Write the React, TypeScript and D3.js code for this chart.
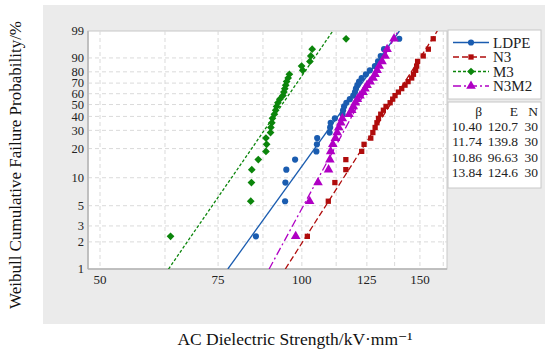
import React, { useRef, useEffect } from "react";
import * as d3 from "d3";

// breakdown strength values (kV/mm), sorted, 30 samples each
const ldpe = [85.4, 94.4, 94.5, 94.8, 97.7, 105.1, 105.3, 105.4, 110.0, 110.2, 110.4, 112.0, 115.0, 115.2, 115.6, 116.5, 117.9, 119.3, 120.0, 120.4, 121.0, 121.7, 122.8, 124.6, 126.3, 128.5, 129.9, 131.1, 132.6, 139.7];
const n3 = [101.9, 109.5, 112.0, 116.3, 116.3, 122.8, 123.8, 126.7, 127.6, 128.6, 129.4, 130.1, 131.1, 132.3, 133.5, 135.4, 136.6, 137.7, 139.3, 140.9, 142.5, 144.0, 145.8, 146.7, 147.8, 148.3, 148.8, 151.7, 154.4, 157.0];
const m3 = [63.7, 83.9, 84.1, 84.2, 86.1, 88.4, 88.6, 88.4, 89.8, 89.9, 90.2, 90.4, 91.0, 91.4, 91.7, 92.1, 92.7, 93.7, 94.0, 94.3, 94.6, 94.9, 95.4, 95.8, 100.3, 99.9, 102.8, 103.1, 103.6, 116.4];
const n3m2 = [97.9, 102.7, 105.7, 109.6, 110.1, 110.4, 111.2, 112.2, 112.9, 113.5, 114.3, 114.9, 117.6, 118.7, 119.3, 120.2, 121.0, 122.1, 123.4, 124.2, 125.1, 126.4, 127.7, 128.6, 129.5, 130.4, 131.7, 133.1, 134.0, 137.2];

const seriesNames = ["LDPE", "N3", "M3", "N3M2"];
const betas = ["10.40", "11.74", "10.86", "13.84"];
const scales = ["120.7", "139.8", "96.63", "124.6"];
const counts = ["30", "30", "30", "30"];

const xTicks = [50, 75, 100, 125, 150];
const xGrid = [50, 62.5, 75, 87.5, 100, 112.5, 125, 137.5, 150, 162.5];
const yTicks = [1, 2, 3, 5, 10, 20, 30, 40, 50, 60, 70, 80, 90, 99];

const FONT = "'Liberation Serif', 'DejaVu Serif', serif";

const weib = (F: number) => Math.log(-Math.log(1 - F));

const App = () => {
  const ref = useRef<SVGSVGElement>(null);

  useEffect(() => {
    const svg = d3.select(ref.current);
    svg.selectAll("*").remove();

    const left = 88, right = 447, top = 31, bottom = 269;

    const x = d3.scaleLog().domain([47.98, 164.6]).range([left, right]);
    const y = d3.scaleLinear().domain([weib(0.01), weib(0.99)]).range([bottom, top]);

    const series = [
      { name: seriesNames[0], data: ldpe, beta: +betas[0], eta: +scales[0], color: "#1a5cb0", dash: null, sym: d3.symbolCircle, size: 30, rot: 0 },
      { name: seriesNames[1], data: n3, beta: +betas[1], eta: +scales[1], color: "#b00c0c", dash: "6,3", sym: d3.symbolSquare, size: 28, rot: 0 },
      { name: seriesNames[2], data: m3, beta: +betas[2], eta: +scales[2], color: "#0b850b", dash: "3,2", sym: d3.symbolSquare, size: 30, rot: 45 },
      { name: seriesNames[3], data: n3m2, beta: +betas[3], eta: +scales[3], color: "#b000c4", dash: "8,3,2,3", sym: d3.symbolTriangle, size: 40, rot: 0 },
    ];

    // grey panel
    svg.append("rect").attr("x", 43).attr("y", 5).attr("width", 502).attr("height", 319).attr("fill", "#ebebeb");

    // plot area
    svg.append("rect").attr("x", left).attr("y", top).attr("width", right - left).attr("height", bottom - top)
      .attr("fill", "#fff").attr("stroke", "#c8c8c8").attr("stroke-width", 1);

    svg.append("clipPath").attr("id", "plotclip").append("rect")
      .attr("x", left).attr("y", top).attr("width", right - left).attr("height", bottom - top);

    // grid
    const grid = svg.append("g").attr("stroke", "#dadada").attr("stroke-dasharray", "4,3").attr("stroke-width", 1);
    grid.selectAll("line.v").data(xGrid).enter().append("line")
      .attr("x1", (d) => x(d)).attr("x2", (d) => x(d)).attr("y1", top).attr("y2", bottom);
    grid.selectAll("line.h").data(yTicks.slice(1, -1)).enter().append("line")
      .attr("x1", left).attr("x2", right).attr("y1", (d) => y(weib(d / 100))).attr("y2", (d) => y(weib(d / 100)));

    // axes lines
    svg.append("line").attr("x1", left).attr("x2", left).attr("y1", top).attr("y2", bottom).attr("stroke", "#b4b4b4").attr("stroke-width", 1.5);
    svg.append("line").attr("x1", left).attr("x2", right).attr("y1", bottom).attr("y2", bottom).attr("stroke", "#b4b4b4").attr("stroke-width", 1.5);

    // tick labels
    svg.append("g").selectAll("text").data(yTicks).enter().append("text")
      .attr("x", 84).attr("y", (d) => y(weib(d / 100))).attr("dy", "0.35em")
      .attr("text-anchor", "end").attr("font-family", FONT).attr("font-size", 12.5).attr("fill", "#222")
      .text((d) => d);
    svg.append("g").selectAll("text").data(xTicks).enter().append("text")
      .attr("x", (d) => x(d)).attr("y", 284).attr("text-anchor", "middle")
      .attr("font-family", FONT).attr("font-size", 13).attr("fill", "#222")
      .text((d) => d);

    // fit lines and points
    const plot = svg.append("g").attr("clip-path", "url(#plotclip)");
    series.forEach((s) => {
      const probs = [0.01, 0.99];
      const pts = probs.map((F) => [x(s.eta * Math.pow(-Math.log(1 - F), 1 / s.beta)), y(weib(F))] as [number, number]);
      plot.append("path").attr("d", d3.line()(pts)).attr("fill", "none")
        .attr("stroke", s.color).attr("stroke-width", 1.3).attr("stroke-dasharray", s.dash);
    });
    series.forEach((s) => {
      const n = s.data.length;
      plot.append("g").selectAll("path").data(s.data).enter().append("path")
        .attr("d", d3.symbol().type(s.sym).size(s.size)())
        .attr("transform", (d, i) => `translate(${x(d)},${y(weib((i + 1 - 0.3) / (n + 0.4)))}) rotate(${s.rot})`)
        .attr("fill", s.color);
    });

    // legend
    const lg = svg.append("g");
    lg.append("rect").attr("x", 448).attr("y", 30).attr("width", 93).attr("height", 69)
      .attr("fill", "#fff").attr("stroke", "#c8c8c8");
    series.forEach((s, i) => {
      const yy = 42.5 + i * 14.5;
      lg.append("line").attr("x1", 453).attr("x2", 489).attr("y1", yy).attr("y2", yy)
        .attr("stroke", s.color).attr("stroke-width", 1.3).attr("stroke-dasharray", s.dash);
      lg.append("path").attr("d", d3.symbol().type(s.sym).size(s.size)())
        .attr("transform", `translate(471,${yy}) rotate(${s.rot})`).attr("fill", s.color);
      lg.append("text").attr("x", 493).attr("y", yy).attr("dy", "0.35em")
        .attr("font-family", FONT).attr("font-size", 15).attr("fill", "#222").text(s.name);
    });

    // parameter table
    lg.append("rect").attr("x", 448).attr("y", 102).attr("width", 93).attr("height", 86)
      .attr("fill", "#fff").attr("stroke", "#c8c8c8");
    const cols = [482, 518, 538];
    const head = ["β", "E", "N"];
    head.forEach((h, j) => {
      lg.append("text").attr("x", cols[j]).attr("y", 111).attr("dy", "0.35em").attr("text-anchor", "end")
        .attr("font-family", FONT).attr("font-size", 13.5).attr("fill", "#222").text(h);
    });
    betas.forEach((b, i) => {
      const yy = 126 + i * 15.5;
      [b, scales[i], counts[i]].forEach((v, j) => {
        lg.append("text").attr("x", cols[j]).attr("y", yy).attr("dy", "0.35em").attr("text-anchor", "end")
          .attr("font-family", FONT).attr("font-size", 13.5).attr("fill", "#222").text(v);
      });
    });

    // axis titles
    svg.append("text").attr("transform", "translate(21,165) rotate(-90)").attr("text-anchor", "middle")
      .attr("font-family", FONT).attr("font-size", 17).attr("fill", "#111")
      .text("Weibull Cumulative Failure Probability/%");
    svg.append("text").attr("x", 295).attr("y", 345).attr("text-anchor", "middle")
      .attr("font-family", FONT).attr("font-size", 17.5).attr("fill", "#111")
      .text("AC Dielectric Strength/kV·mm⁻¹");
  }, []);

  return (
    <svg ref={ref} width={550} height={353} style={{ position: "absolute", left: 0, top: 0 }} />
  );
};

export default App;
